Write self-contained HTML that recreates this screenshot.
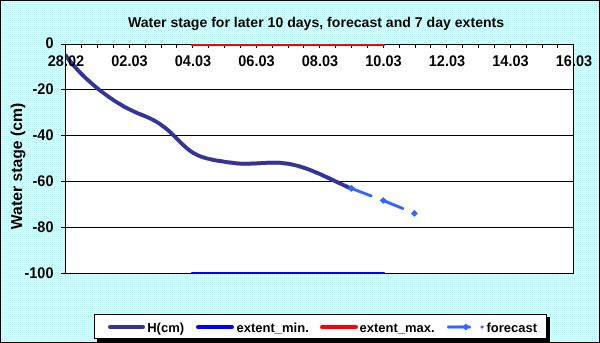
<!DOCTYPE html>
<html><head><meta charset="utf-8"><style>
html,body{margin:0;padding:0;width:600px;height:343px;overflow:hidden;background:#C7FBFB;}
svg{display:block;will-change:transform;}
text{font-family:"Liberation Sans",sans-serif;font-weight:bold;fill:#000;text-rendering:geometricPrecision;}
</style></head><body>
<svg width="600" height="343" viewBox="0 0 600 343">
<defs><pattern id="bgp" x="0" y="0" width="2" height="2" patternUnits="userSpaceOnUse"><rect width="2" height="2" fill="#CCFFFF"/><rect width="1" height="1" fill="#BFF3F3"/></pattern></defs>
<rect x="0" y="0" width="600" height="343" fill="url(#bgp)" shape-rendering="crispEdges"/>
<rect x="0.5" y="0.5" width="599" height="342" fill="none" stroke="#000" stroke-width="1"/>
<rect x="65" y="44" width="508" height="229" fill="#fff"/>
<line x1="61" y1="44.5" x2="574" y2="44.5" stroke="#000" stroke-width="1"/>
<line x1="61" y1="89.5" x2="574" y2="89.5" stroke="#000" stroke-width="1"/>
<line x1="61" y1="135.5" x2="574" y2="135.5" stroke="#000" stroke-width="1"/>
<line x1="61" y1="181.5" x2="574" y2="181.5" stroke="#000" stroke-width="1"/>
<line x1="61" y1="227.5" x2="574" y2="227.5" stroke="#000" stroke-width="1"/>
<line x1="61" y1="273.5" x2="574" y2="273.5" stroke="#000" stroke-width="1"/>
<line x1="65.5" y1="44" x2="65.5" y2="274" stroke="#000" stroke-width="1"/>
<line x1="573.5" y1="44" x2="573.5" y2="274" stroke="#000" stroke-width="1"/>
<line x1="65.5" y1="44" x2="65.5" y2="48" stroke="#000" stroke-width="1"/>
<line x1="81.5" y1="44" x2="81.5" y2="48" stroke="#000" stroke-width="1"/>
<line x1="97.5" y1="44" x2="97.5" y2="48" stroke="#000" stroke-width="1"/>
<line x1="113.5" y1="44" x2="113.5" y2="48" stroke="#000" stroke-width="1"/>
<line x1="129.5" y1="44" x2="129.5" y2="48" stroke="#000" stroke-width="1"/>
<line x1="145.5" y1="44" x2="145.5" y2="48" stroke="#000" stroke-width="1"/>
<line x1="161.5" y1="44" x2="161.5" y2="48" stroke="#000" stroke-width="1"/>
<line x1="176.5" y1="44" x2="176.5" y2="48" stroke="#000" stroke-width="1"/>
<line x1="192.5" y1="44" x2="192.5" y2="48" stroke="#000" stroke-width="1"/>
<line x1="208.5" y1="44" x2="208.5" y2="48" stroke="#000" stroke-width="1"/>
<line x1="224.5" y1="44" x2="224.5" y2="48" stroke="#000" stroke-width="1"/>
<line x1="240.5" y1="44" x2="240.5" y2="48" stroke="#000" stroke-width="1"/>
<line x1="256.5" y1="44" x2="256.5" y2="48" stroke="#000" stroke-width="1"/>
<line x1="272.5" y1="44" x2="272.5" y2="48" stroke="#000" stroke-width="1"/>
<line x1="288.5" y1="44" x2="288.5" y2="48" stroke="#000" stroke-width="1"/>
<line x1="303.5" y1="44" x2="303.5" y2="48" stroke="#000" stroke-width="1"/>
<line x1="319.5" y1="44" x2="319.5" y2="48" stroke="#000" stroke-width="1"/>
<line x1="335.5" y1="44" x2="335.5" y2="48" stroke="#000" stroke-width="1"/>
<line x1="351.5" y1="44" x2="351.5" y2="48" stroke="#000" stroke-width="1"/>
<line x1="367.5" y1="44" x2="367.5" y2="48" stroke="#000" stroke-width="1"/>
<line x1="383.5" y1="44" x2="383.5" y2="48" stroke="#000" stroke-width="1"/>
<line x1="399.5" y1="44" x2="399.5" y2="48" stroke="#000" stroke-width="1"/>
<line x1="415.5" y1="44" x2="415.5" y2="48" stroke="#000" stroke-width="1"/>
<line x1="430.5" y1="44" x2="430.5" y2="48" stroke="#000" stroke-width="1"/>
<line x1="446.5" y1="44" x2="446.5" y2="48" stroke="#000" stroke-width="1"/>
<line x1="462.5" y1="44" x2="462.5" y2="48" stroke="#000" stroke-width="1"/>
<line x1="478.5" y1="44" x2="478.5" y2="48" stroke="#000" stroke-width="1"/>
<line x1="494.5" y1="44" x2="494.5" y2="48" stroke="#000" stroke-width="1"/>
<line x1="510.5" y1="44" x2="510.5" y2="48" stroke="#000" stroke-width="1"/>
<line x1="526.5" y1="44" x2="526.5" y2="48" stroke="#000" stroke-width="1"/>
<line x1="542.5" y1="44" x2="542.5" y2="48" stroke="#000" stroke-width="1"/>
<line x1="557.5" y1="44" x2="557.5" y2="48" stroke="#000" stroke-width="1"/>
<line x1="573.5" y1="44" x2="573.5" y2="48" stroke="#000" stroke-width="1"/>
<line x1="192" y1="45" x2="384" y2="45" stroke="#FF0000" stroke-width="2" stroke-linecap="round"/>
<line x1="192" y1="273" x2="384" y2="273" stroke="#0000FF" stroke-width="2" stroke-linecap="round"/>
<clipPath id="pc"><rect x="66" y="44" width="508" height="230"/></clipPath>
<polyline clip-path="url(#pc)" points="65.8,55.49 67.8,58.21 69.8,60.80 71.8,63.27 73.8,65.64 75.8,67.91 77.8,70.11 79.8,72.22 81.8,74.27 83.8,76.25 85.8,78.17 87.8,80.03 89.8,81.84 91.8,83.60 93.8,85.31 95.8,86.98 97.8,88.61 99.8,90.20 101.8,91.75 103.8,93.27 105.8,94.75 107.8,96.19 109.8,97.60 111.8,98.97 113.8,100.30 115.8,101.60 117.8,102.86 119.8,104.08 121.8,105.25 123.8,106.39 125.8,107.49 127.8,108.55 129.8,109.56 131.8,110.54 133.8,111.47 135.8,112.36 137.8,113.22 139.8,114.05 141.8,114.86 143.8,115.68 145.8,116.52 147.8,117.39 149.8,118.30 151.8,119.26 153.8,120.29 155.8,121.41 157.8,122.62 159.8,123.92 161.8,125.31 163.8,126.79 165.8,128.38 167.8,130.05 169.8,131.83 171.8,133.70 173.8,135.64 175.8,137.63 177.8,139.64 179.8,141.64 181.8,143.61 183.8,145.52 185.8,147.33 187.8,149.03 189.8,150.59 191.8,151.98 193.8,153.21 195.8,154.29 197.8,155.25 199.8,156.09 201.8,156.84 203.8,157.50 205.8,158.10 207.8,158.64 209.8,159.12 211.8,159.57 213.8,159.97 215.8,160.35 217.8,160.69 219.8,161.02 221.8,161.33 223.8,161.63 225.8,161.92 227.8,162.21 229.8,162.49 231.8,162.76 233.8,163.00 235.8,163.22 237.8,163.40 239.8,163.55 241.8,163.65 243.8,163.71 245.8,163.73 247.8,163.72 249.8,163.68 251.8,163.62 253.8,163.54 255.8,163.45 257.8,163.34 259.8,163.23 261.8,163.12 263.8,163.02 265.8,162.92 267.8,162.83 269.8,162.76 271.8,162.72 273.8,162.70 275.8,162.71 277.8,162.76 279.8,162.84 281.8,162.97 283.8,163.15 285.8,163.39 287.8,163.68 289.8,164.02 291.8,164.42 293.8,164.86 295.8,165.35 297.8,165.88 299.8,166.46 301.8,167.07 303.8,167.73 305.8,168.41 307.8,169.14 309.8,169.89 311.8,170.67 313.8,171.48 315.8,172.31 317.8,173.16 319.8,174.04 321.8,174.93 323.8,175.83 325.8,176.75 327.8,177.68 329.8,178.62 331.8,179.56 333.8,180.51 335.8,181.46 337.8,182.41 339.8,183.35 341.8,184.30 343.8,185.23 345.8,186.15 347.8,187.07 349.8,187.97 351.4,188.67" fill="none" stroke="#333399" stroke-width="4" stroke-linecap="round" stroke-linejoin="round"/>
<polyline points="351.4,188.3 383.3,200.5 414.4,213.4" fill="none" stroke="#3366FF" stroke-width="3" stroke-dasharray="21 13" stroke-linecap="round"/>
<path d="M347.79999999999995,188.3 L351.4,184.70000000000002 L355.0,188.3 L351.4,191.9 Z" fill="#3366FF"/>
<path d="M379.7,200.5 L383.3,196.9 L386.90000000000003,200.5 L383.3,204.1 Z" fill="#3366FF"/>
<path d="M410.79999999999995,213.4 L414.4,209.8 L418.0,213.4 L414.4,217.0 Z" fill="#3366FF"/>
<text x="316" y="27" font-family="Liberation Sans, sans-serif" font-weight="bold" font-size="14.1" text-anchor="middle">Water stage for later 10 days, forecast and 7 day extents</text>
<text transform="translate(53.5,48) scale(1,1.07)" x="0" y="0" font-family="Liberation Sans, sans-serif" font-weight="bold" font-size="14.5" text-anchor="end">0</text>
<text transform="translate(53.5,94) scale(1,1.07)" x="0" y="0" font-family="Liberation Sans, sans-serif" font-weight="bold" font-size="14.5" text-anchor="end">-20</text>
<text transform="translate(53.5,140) scale(1,1.07)" x="0" y="0" font-family="Liberation Sans, sans-serif" font-weight="bold" font-size="14.5" text-anchor="end">-40</text>
<text transform="translate(53.5,186) scale(1,1.07)" x="0" y="0" font-family="Liberation Sans, sans-serif" font-weight="bold" font-size="14.5" text-anchor="end">-60</text>
<text transform="translate(53.5,232) scale(1,1.07)" x="0" y="0" font-family="Liberation Sans, sans-serif" font-weight="bold" font-size="14.5" text-anchor="end">-80</text>
<text transform="translate(53.5,278) scale(1,1.07)" x="0" y="0" font-family="Liberation Sans, sans-serif" font-weight="bold" font-size="14.5" text-anchor="end">-100</text>
<text transform="translate(65.9,66) scale(1,1.07)" x="0" y="0" font-family="Liberation Sans, sans-serif" font-weight="bold" font-size="14.5" text-anchor="middle">28.02</text>
<text transform="translate(129.4,66) scale(1,1.07)" x="0" y="0" font-family="Liberation Sans, sans-serif" font-weight="bold" font-size="14.5" text-anchor="middle">02.03</text>
<text transform="translate(192.9,66) scale(1,1.07)" x="0" y="0" font-family="Liberation Sans, sans-serif" font-weight="bold" font-size="14.5" text-anchor="middle">04.03</text>
<text transform="translate(256.4,66) scale(1,1.07)" x="0" y="0" font-family="Liberation Sans, sans-serif" font-weight="bold" font-size="14.5" text-anchor="middle">06.03</text>
<text transform="translate(319.9,66) scale(1,1.07)" x="0" y="0" font-family="Liberation Sans, sans-serif" font-weight="bold" font-size="14.5" text-anchor="middle">08.03</text>
<text transform="translate(383.4,66) scale(1,1.07)" x="0" y="0" font-family="Liberation Sans, sans-serif" font-weight="bold" font-size="14.5" text-anchor="middle">10.03</text>
<text transform="translate(446.9,66) scale(1,1.07)" x="0" y="0" font-family="Liberation Sans, sans-serif" font-weight="bold" font-size="14.5" text-anchor="middle">12.03</text>
<text transform="translate(510.4,66) scale(1,1.07)" x="0" y="0" font-family="Liberation Sans, sans-serif" font-weight="bold" font-size="14.5" text-anchor="middle">14.03</text>
<text transform="translate(573.9,66) scale(1,1.07)" x="0" y="0" font-family="Liberation Sans, sans-serif" font-weight="bold" font-size="14.5" text-anchor="middle">16.03</text>
<text transform="translate(22,166) rotate(-90)" x="0" y="0" font-family="Liberation Sans, sans-serif" font-weight="bold" font-size="15.75" text-anchor="middle">Water stage (cm)</text>
<rect x="97" y="317" width="453" height="25" fill="#000"/>
<rect x="94.5" y="314.5" width="452" height="24" fill="#fff" stroke="#000" stroke-width="1"/>
<line x1="110" y1="327" x2="143" y2="327" stroke="#333399" stroke-width="4" stroke-linecap="round"/>
<text x="147.2" y="331.5" font-family="Liberation Sans, sans-serif" font-weight="bold" font-size="13">H(cm)</text>
<line x1="198" y1="327" x2="232" y2="327" stroke="#0000FF" stroke-width="4" stroke-linecap="round"/>
<text x="236.5" y="331.5" font-family="Liberation Sans, sans-serif" font-weight="bold" font-size="13">extent_min.</text>
<line x1="322" y1="327" x2="356" y2="327" stroke="#FF0000" stroke-width="4" stroke-linecap="round"/>
<text x="359.5" y="331.5" font-family="Liberation Sans, sans-serif" font-weight="bold" font-size="13">extent_max.</text>
<line x1="448.5" y1="327" x2="469.5" y2="327" stroke="#3366FF" stroke-width="3" stroke-linecap="round"/>
<line x1="482" y1="327" x2="482.2" y2="327" stroke="#3366FF" stroke-width="3" stroke-linecap="round"/>
<path d="M462.3,327 L465.8,323.5 L469.3,327 L465.8,330.5 Z" fill="#3366FF"/>
<text x="486.5" y="331.5" font-family="Liberation Sans, sans-serif" font-weight="bold" font-size="13">forecast</text>
</svg>
</body></html>
